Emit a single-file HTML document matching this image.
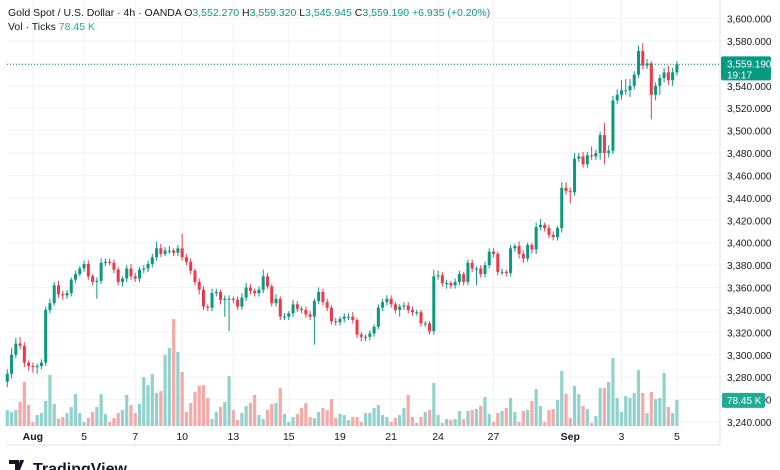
<!DOCTYPE html>
<html><head><meta charset="utf-8"><style>
html,body{margin:0;padding:0;background:#fff;width:780px;height:470px;overflow:hidden;font-family:"Liberation Sans",sans-serif}
svg{display:block}
</style></head><body>
<svg id="chart" width="780" height="470" viewBox="0 0 780 470">
<g id="grid"></g>
<g id="vols"></g>
<g id="candles"></g>
<g id="yaxis"></g>
<g id="xaxis"></g>
<line x1="7" y1="445" x2="720" y2="445" stroke="#e0e3eb"/>
<line x1="720" y1="0" x2="720" y2="445" stroke="#e0e3eb"/>
<text x="8" y="16" font-size="10.5" fill="#131722">Gold Spot / U.S. Dollar · 4h · OANDA  <tspan fill="#131722">O</tspan><tspan fill="#089981">3,552.270</tspan>  <tspan fill="#131722">H</tspan><tspan fill="#089981">3,559.320</tspan>  <tspan fill="#131722">L</tspan><tspan fill="#089981">3,545.945</tspan>  <tspan fill="#131722">C</tspan><tspan fill="#089981">3,559.190</tspan>  <tspan fill="#089981">+6.935 (+0.20%)</tspan></text>
<text x="8" y="30" font-size="10.5" fill="#131722">Vol · Ticks <tspan fill="#22ab94">78.45 K</tspan></text>
<g>
<path d="M9 460h10v10h-4v-6H9z M20 460h4l-4 10h-3z" fill="#131722"/>
<circle cx="22" cy="461.5" r="1.6" fill="#131722"/>
<text x="33" y="474" font-size="16" font-weight="bold" fill="#131722">TradingView</text>
</g>
</svg>
<script>
const closes=[3283,3300,3310,3308,3293,3290,3289,3290,3293,3340,3346,3362,3354,3353,3355,3367,3372,3377,3381,3370,3365,3366,3382,3383,3382,3376,3365,3368,3377,3370,3368,3376,3377,3381,3387,3395,3390,3393,3393,3391,3395,3387,3383,3375,3365,3358,
3343,3342,3355,3356,3349,3350,3350,3349,3343,3351,3360,3357,3355,3358,3370,3361,3346,3350,3334,3334,3337,3345,3341,3340,3336,3334,3348,3356,3347,3342,3330,3329,3332,3334,3334,3331,3318,3316,3316,3319,3325,3342,3347,3350,3345,3340,3343,3344,3340,3338,3338,3328,3328,3321,3370,3371,
3364,3364,3362,3365,3372,3365,3382,3377,3377,3372,3380,3392,3390,3374,3374,3373,3395,3397,3390,3386,3398,3394,3414,3416,3413,3407,3405,3413,3449,3446,3445,3475,3477,3470,3478,3477,3480,3496,3480,3482,3527,3532,3536,3536,3540,3550,3571,3558,3560,3532,3540,3547,3552,3545,3552,3559.19];
const firstOpen=3276;
const wickUp=[4,6,5,6,3,2,3,2,3,3,4,3,4,3,3,2,3,2,3,3,2,3,4,3,3,3,2,2,3,4,3,2,3,3,3,6,4,3,4,2,3,13,3,3,2,3,3,2,4,3,2,3,3,2,3,4,4,3,2,3,6,3,2,4,2,3,2,4,3,2,3,3,2,4,3,3,2,3,2,3,3,4,2,2,2,3,2,3,3,3,3,2,2,3,3,3,2,2,2,2,6,4,3,3,2,3,3,2,3,3,2,3,3,3,3,2,3,2,3,2,4,3,2,2,4,5,2,3,3,2,5,5,3,5,3,4,3,8,3,3,11,5,4,5,9,10,6,3,5,7,4,2,3,3,4,6,4,3];
const wickDn=[5,4,3,3,4,4,5,6,3,3,3,2,3,4,3,3,3,2,3,3,3,15,3,3,2,3,3,4,3,3,3,3,3,3,3,3,3,2,3,3,3,3,3,3,3,4,3,3,3,3,4,15,29,3,3,3,3,3,3,3,3,2,3,3,3,3,3,3,3,3,3,3,25,3,3,3,3,3,3,3,3,3,3,4,4,3,3,2,3,3,3,3,6,3,3,3,3,3,3,3,3,3,3,5,3,3,3,3,3,3,15,3,3,3,3,3,3,3,3,3,4,4,3,4,4,3,3,3,3,3,4,3,10,3,3,3,3,3,3,6,10,4,3,3,4,4,6,3,3,3,3,22,5,8,4,4,5,3];
const volumes=[48,42,48,72,132,63,12,33,39,75,153,66,21,27,39,57,96,39,12,24,42,57,96,36,12,24,39,48,93,63,39,66,147,123,156,99,105,213,234,321,222,162,42,69,102,120,
123,84,21,42,57,72,150,48,18,39,60,69,93,33,21,48,66,69,114,36,12,27,36,54,69,27,24,42,54,48,81,24,36,33,18,27,27,12,39,39,54,63,33,27,12,24,33,54,93,27,9,27,42,48,
129,33,9,21,18,21,45,21,45,48,51,60,87,36,12,39,45,54,84,42,12,45,48,75,111,60,12,48,51,78,165,96,24,120,96,60,51,9,30,
114,114,132,204,84,42,90,84,99,168,99,39,102,81,84,159,57,39,78.45];
const priceTicks=[3600,3580,3560,3540,3520,3500,3480,3460,3440,3420,3400,3380,3360,3340,3320,3300,3280,3260,3240];
const dateLabels=["Aug","5","7","10","13","15","19","21","24","27","Sep","3","5"];
const dateIdx=[7,19,31,42,54,67,79,91,102,115,133,145,158];

const NS="http://www.w3.org/2000/svg";
const X0=7.3,STEP=4.265;
function xs(i){return X0+i*STEP;}
function ys(p){return 422-(p-3240)*1.1206;}
function yv(v){return 426-v/3.0;}
function mk(tag,attrs,parent){const e=document.createElementNS(NS,tag);for(const k in attrs)e.setAttribute(k,attrs[k]);parent.appendChild(e);return e;}
const G=document.getElementById('grid'),V=document.getElementById('vols'),C=document.getElementById('candles'),YA=document.getElementById('yaxis'),XA=document.getElementById('xaxis');
priceTicks.forEach(p=>{
  const l=mk('line',{x1:7,x2:720,y1:ys(p),y2:ys(p),stroke:'#f0f3fa'},G);
  
  
  const t=mk('text',{x:727,y:ys(p)+4,'font-size':10,fill:'#131722'},YA);
  t.textContent=p.toLocaleString('en-US')+'.000';
  
  
});
dateLabels.forEach((d,k)=>{
  const x=xs(dateIdx[k]-1);
  const l=mk('line',{x1:x,x2:x,y1:0,y2:445,stroke:'#f0f3fa'},G);
  
  
  const t=mk('text',{x:x,y:440,'font-size':10.5,fill:'#131722','text-anchor':'middle','font-weight':(d==='Aug'||d==='Sep')?'bold':'normal'},XA);
  t.textContent=d;
  
  
});
closes.forEach((c,i)=>{
  const o=i===0?firstOpen:closes[i-1];
  const up=c>=o;
  const col=up?'#089981':'#f23645';
  const x=xs(i);
  const hi=Math.max(o,c)+wickUp[i],lo=Math.min(o,c)-wickDn[i];
  const vb=mk('rect',{x:x-1.6,y:yv(volumes[i]),width:3.2,height:426-yv(volumes[i]),fill:up?'#92d2cc':'#f7a9a7'},V);
  
  
  const w=mk('line',{x1:x,x2:x,y1:ys(hi),y2:ys(lo),stroke:col,'stroke-width':1},C);
  
  
  const top=ys(Math.max(o,c)),bot=ys(Math.min(o,c));
  const b=mk('rect',{x:x-1.5,y:top,width:3,height:Math.max(1,bot-top),fill:col},C);
  
  
});
const lastY=ys(closes[closes.length-1]);
const pl=mk('line',{x1:7,x2:720,y1:lastY,y2:lastY,stroke:'#089981','stroke-dasharray':'1 2','stroke-width':1},C);


const box=mk('rect',{x:721,y:lastY-8,width:50,height:24,fill:'#089981',rx:2},YA);


const t1=mk('text',{x:727,y:lastY+3,'font-size':10,fill:'#fff'},YA);
t1.textContent='3,559.190';


const t2=mk('text',{x:727,y:lastY+14,'font-size':10,fill:'#fff'},YA);
t2.textContent='19:17';


const vy=yv(volumes[volumes.length-1]);
const vbx=mk('rect',{x:722,y:vy-7,width:43,height:15,fill:'#22ab94',rx:2},YA);


const vt=mk('text',{x:727,y:vy+4,'font-size':10,fill:'#fff'},YA);
vt.textContent='78.45 K';


</script>
</body></html>
